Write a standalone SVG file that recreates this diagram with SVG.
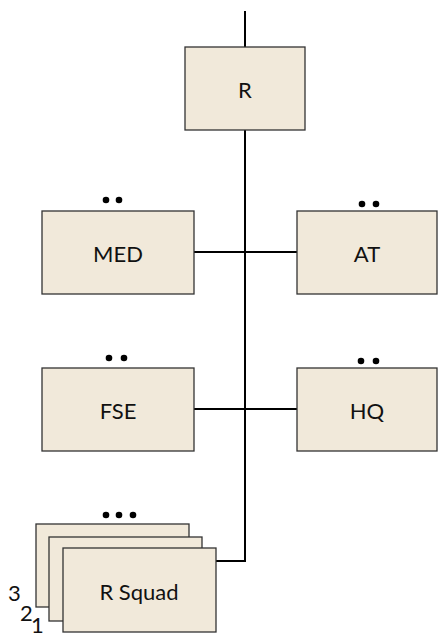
<svg xmlns="http://www.w3.org/2000/svg" width="438" height="639" viewBox="0 0 438 639">
<style>
.box{fill:#F1E9DA;stroke:#333;stroke-width:1.3}
.lbl{font-family:Lato,"Open Sans",sans-serif;font-size:22px;fill:#111;text-anchor:middle;dominant-baseline:central}
.num{font-family:Lato,"Open Sans",sans-serif;font-size:22px;fill:#111}
.dot{fill:#000}
.wire{fill:none;stroke:#000;stroke-width:2}
</style>
<g id="connectors">
<path class="wire" d="M245 11V47"/>
<path class="wire" d="M245 130V561H216"/>
<path class="wire" d="M194 252H297"/>
<path class="wire" d="M194 409H297"/>
</g>
<g id="R"><rect class="box" x="185" y="47" width="120" height="83"/><text class="lbl" x="245" y="89">R</text></g>
<g id="MED"><rect class="box" x="42" y="211" width="152" height="83"/><text class="lbl" x="118" y="253">MED</text><circle class="dot" cx="106" cy="200" r="3.3"/><circle class="dot" cx="119" cy="200" r="3.3"/></g>
<g id="AT"><rect class="box" x="297" y="211" width="140" height="83"/><text class="lbl" x="367" y="253">AT</text><circle class="dot" cx="362" cy="204" r="3.3"/><circle class="dot" cx="376" cy="204" r="3.3"/></g>
<g id="FSE"><rect class="box" x="42" y="368" width="152" height="83"/><text class="lbl" x="118" y="410">FSE</text><circle class="dot" cx="109" cy="358" r="3.3"/><circle class="dot" cx="124" cy="358" r="3.3"/></g>
<g id="HQ"><rect class="box" x="297" y="368" width="140" height="83"/><text class="lbl" x="367" y="410">HQ</text><circle class="dot" cx="361" cy="361" r="3.3"/><circle class="dot" cx="376" cy="361" r="3.3"/></g>
<g id="RSquad">
<rect class="box" x="36" y="524" width="153" height="83"/>
<rect class="box" x="49" y="537" width="153" height="84"/>
<rect class="box" x="63" y="548" width="153" height="84"/>
<text class="lbl" x="139" y="591">R Squad</text>
<circle class="dot" cx="106" cy="515" r="3.3"/><circle class="dot" cx="119" cy="515" r="3.3"/><circle class="dot" cx="133" cy="515" r="3.3"/>
<text class="num" x="8" y="601">3</text>
<text class="num" x="20" y="621">2</text>
<text class="num" x="31" y="633">1</text>
</g>
</svg>
